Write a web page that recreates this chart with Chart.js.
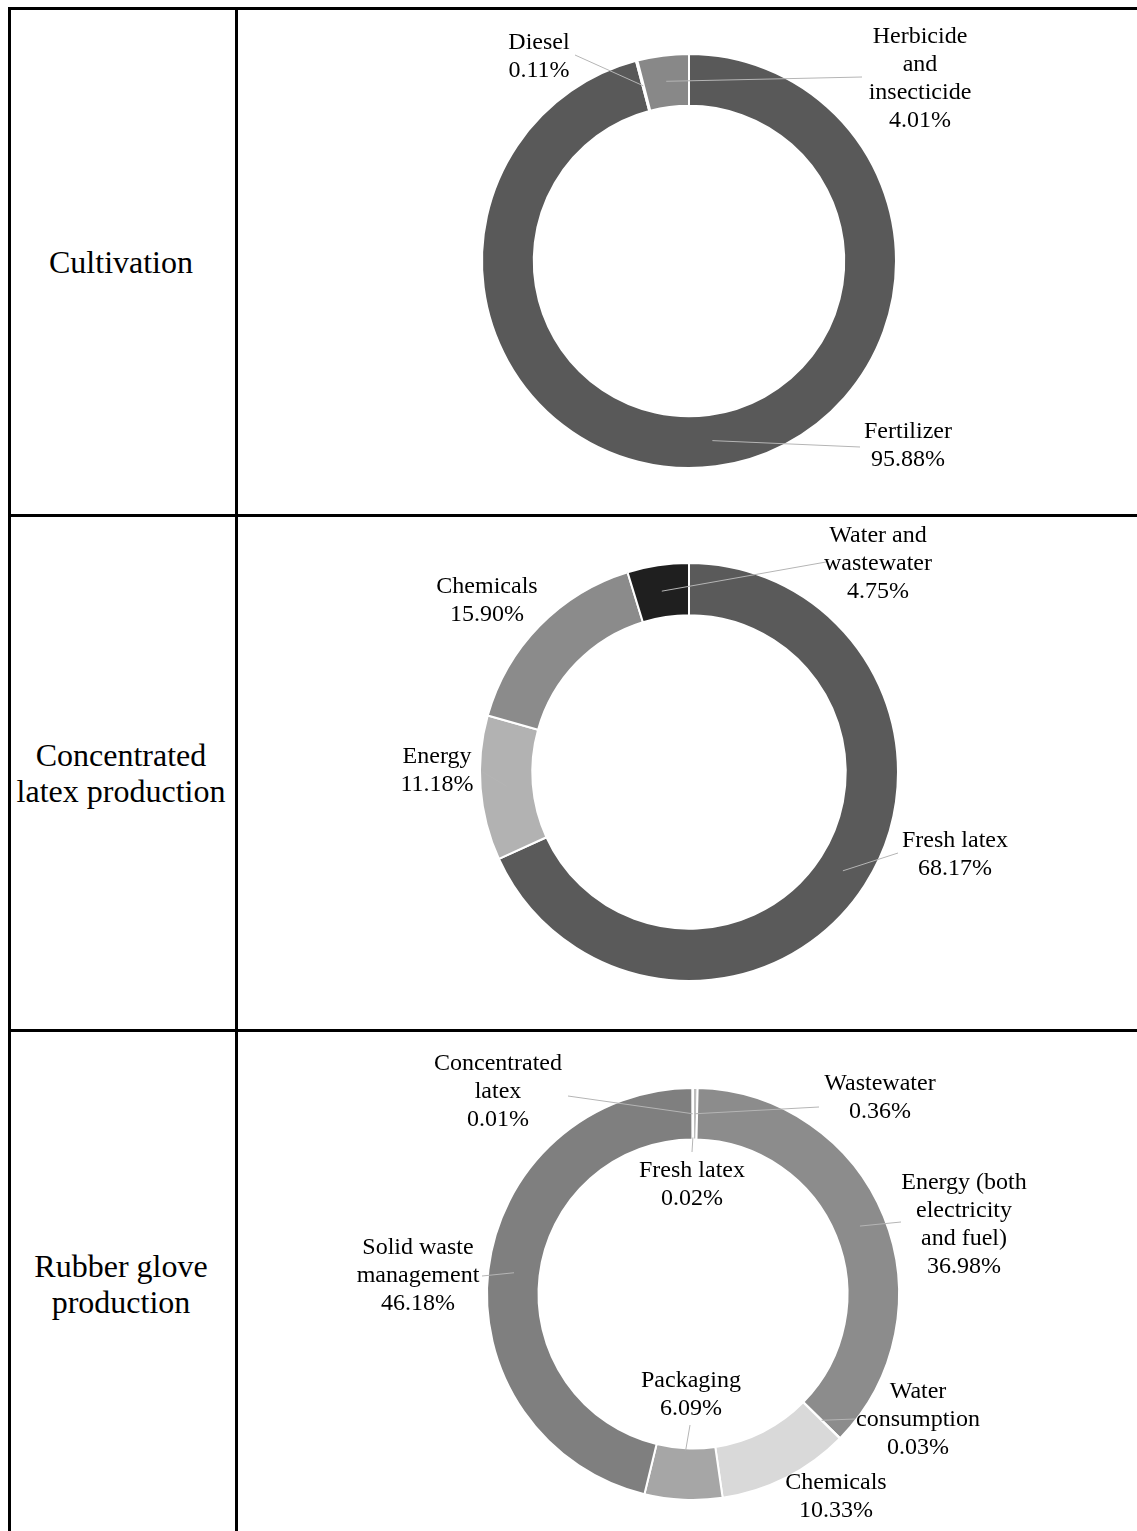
<!DOCTYPE html>
<html>
<head>
<meta charset="utf-8">
<script src="https://cdn.jsdelivr.net/npm/chart.js@4.4.0/dist/chart.umd.min.js"></script>
<style>
  body { margin:0; background:#fff; width:1137px; height:1531px; overflow:hidden; position:relative;
         font-family:"Liberation Serif","Times New Roman",serif; }
  .rule { position:absolute; background:#000; }
  .stage { position:absolute; left:7px; width:228px; text-align:center; font-size:32px; line-height:36px; color:#000; }
  .cell { position:absolute; left:238px; width:899px; }
</style>
</head>
<body>
<div class="rule" style="left:8px;top:7px;width:1129px;height:3px"></div>
<div class="rule" style="left:8px;top:7px;width:3px;height:1524px"></div>
<div class="rule" style="left:235px;top:7px;width:3px;height:1524px"></div>
<div class="rule" style="left:8px;top:514px;width:1129px;height:3px"></div>
<div class="rule" style="left:8px;top:1029px;width:1129px;height:3px"></div>

<div class="stage" style="top:244px">Cultivation</div>
<div class="stage" style="top:737px">Concentrated<br>latex production</div>
<div class="stage" style="top:1248px">Rubber glove<br>production</div>

<div class="cell" style="top:10px;height:504px"><canvas id="c1"></canvas></div>
<div class="cell" style="top:517px;height:512px"><canvas id="c2"></canvas></div>
<div class="cell" style="top:1032px;height:524px"><canvas id="c3"></canvas></div>

<script>
// cultivation
const cultLabels = ['Fertilizer', 'Diesel', ['Herbicide', 'and', 'insecticide']];
const cultValues = [95.88, 0.11, 4.01];
const cultColors = ['#595959', '#d9d9d9', '#888888'];

// concentrated latex production
const latexLabels = ['Fresh latex', 'Energy', 'Chemicals', ['Water and', 'wastewater']];
const latexValues = [68.17, 11.18, 15.90, 4.75];
const latexColors = ['#5a5a5a', '#b2b2b2', '#8b8b8b', '#1f1f1f'];

// rubber glove production
const gloveLabels = ['Wastewater', ['Energy (both', 'electricity', 'and fuel)'], ['Water', 'consumption'],
  'Chemicals', 'Packaging', ['Solid waste', 'management'], ['Concentrated', 'latex'], 'Fresh latex'];
const gloveValues = [0.36, 36.98, 0.03, 10.33, 6.09, 46.18, 0.01, 0.02];
const gloveColors = ['#bdbdbd', '#8c8c8c', '#5a5a5a', '#d9d9d9', '#a6a6a6', '#7f7f7f', '#595959', '#c8c8c8'];

// callout placement, offsets from the donut centre
const cultCallouts = [
  { i: 0, tx: 219, ty: 171, ax: 171, ay: 186 },
  { i: 1, tx: -150, ty: -218, ax: -114, ay: -206 },
  { i: 2, tx: 231, ty: -224, ax: 173, ay: -184 }
];
const latexCallouts = [
  { i: 0, tx: 266, ty: 69, ax: 209, ay: 81 },
  { i: 1, tx: -252, ty: -15, ax: -208, ay: -1 },
  { i: 2, tx: -202, ty: -185 },
  { i: 3, tx: 189, ty: -236, ax: 137, ay: -210 }
];
const gloveCallouts = [
  { i: 0, tx: 187, ty: -210, ax: 126, ay: -187 },
  { i: 1, tx: 271, ty: -111, ax: 208, ay: -72 },
  { i: 2, tx: 225, ty: 98, ax: 162, ay: 125 },
  { i: 3, tx: 143, ty: 189 },
  { i: 4, tx: -2, ty: 87, ax: -3, ay: 131, inner: true },
  { i: 5, tx: -275, ty: -46, ax: -211, ay: -18 },
  { i: 6, tx: -195, ty: -230, ax: -125, ay: -198 },
  { i: 7, tx: -1, ty: -123, ax: -1, ay: -142, inner: true }
];

const callouts = {
  id: 'callouts',
  afterDatasetsDraw(chart, args, opts) {
    const ctx = chart.ctx;
    const meta = chart.getDatasetMeta(0);
    const values = chart.data.datasets[0].data;
    ctx.save();
    opts.items.forEach(it => {
      const p = meta.data[it.i].getProps(['x', 'y', 'startAngle', 'endAngle', 'innerRadius', 'outerRadius'], true);
      const mid = (p.startAngle + p.endAngle) / 2;
      const r = it.inner ? p.innerRadius + 2 : (p.innerRadius + p.outerRadius) / 2;
      if (it.ax !== undefined) {
        ctx.strokeStyle = '#b5b5b5';
        ctx.lineWidth = 1;
        ctx.beginPath();
        ctx.moveTo(p.x + Math.cos(mid) * r, p.y + Math.sin(mid) * r);
        ctx.lineTo(p.x + it.ax, p.y + it.ay);
        ctx.stroke();
      }
      let lbl = chart.data.labels[it.i];
      const lines = (Array.isArray(lbl) ? lbl.slice() : [lbl]);
      lines.push(values[it.i].toFixed(2) + '%');
      ctx.font = '24px "Liberation Serif"';
      ctx.fillStyle = '#000';
      ctx.textAlign = 'center';
      ctx.textBaseline = 'middle';
      lines.forEach((s, k) => ctx.fillText(s, p.x + it.tx, p.y + it.ty + k * 28));
    });
    ctx.restore();
  }
};

function donut(id, labels, values, colors, items, radius, padLeft, padBottom) {
  new Chart(document.getElementById(id), {
    type: 'doughnut',
    data: {
      labels: labels,
      datasets: [{
        data: values,
        backgroundColor: colors,
        borderColor: '#ffffff',
        borderWidth: 2
      }]
    },
    options: {
      responsive: true,
      maintainAspectRatio: false,
      animation: false,
      radius: radius,
      cutout: '75%',
      layout: { padding: { left: padLeft, bottom: padBottom } },
      plugins: {
        legend: { display: false },
        tooltip: { enabled: false },
        callouts: { items: items }
      }
    },
    plugins: [callouts]
  });
}

donut('c1', cultLabels, cultValues, cultColors, cultCallouts, 207, 3, 2);
donut('c2', latexLabels, latexValues, latexColors, latexCallouts, 209, 3, 2);
donut('c3', gloveLabels, gloveValues, gloveColors, gloveCallouts, 206, 11, 0);
</script>
</body>
</html>
